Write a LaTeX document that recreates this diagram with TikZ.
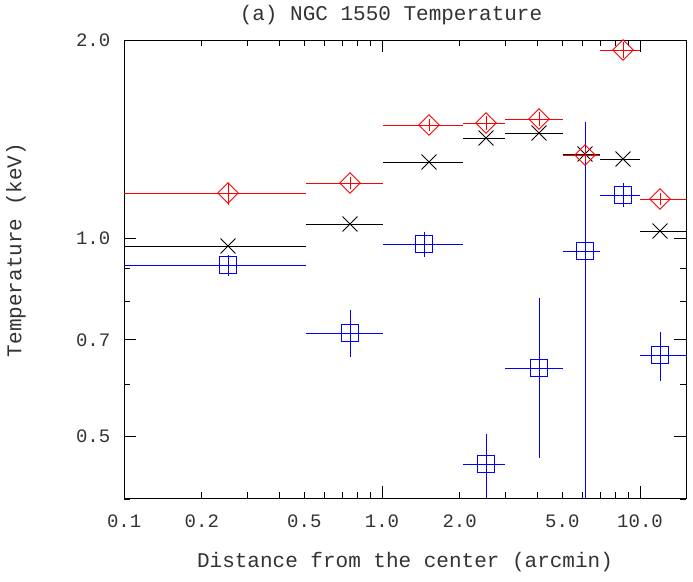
\documentclass[tikz,border=0pt]{standalone}
\usepackage{fontspec}
\setmonofont{Liberation Mono}
\usetikzlibrary{shapes.geometric,shapes.misc}
\tikzset{
  sqmark/.style={draw,rectangle,minimum size=17pt,inner sep=0pt},
  dimark/.style={draw,diamond,minimum size=21pt,inner sep=0pt},
  xmark/.style={draw,cross out,minimum size=14pt,inner sep=0pt},
  ticklab/.style={font=\fontsize{19}{19}\ttfamily,text=black!80}
}
\begin{document}
\begin{tikzpicture}[x=1pt,y=-1pt,line width=0.9pt]
 		\useasboundingbox (0,0) rectangle (693,581);
 		%frame
 		\draw (124,40) rectangle (686,498);
 		%x ticks
 		\foreach \v in {0.1,1,10}
 		{\draw ({382+258*log10(\v)},498) -- ++(0,-12);
 		 \draw ({382+258*log10(\v)},40) -- ++(0,12);}
 		\foreach \v in {0.2,0.3,0.4,0.5,0.6,0.7,0.8,0.9,2,3,4,5,6,7,8,9}
 		{\draw ({382+258*log10(\v)},498) -- ++(0,-6);
 		 \draw ({382+258*log10(\v)},40) -- ++(0,6);}
 		\foreach \v/\vtext in {0.1/0.1,0.2/0.2,0.5/0.5,1/1.0,2/2.0,5/5.0,10/10.0}
 		\node[ticklab] at ({382+258*log10(\v)},521) {\vtext};
 		%y ticks
 		\foreach \v/\vtext in {0.5/0.5,0.7/0.7,1/1.0,2/2.0}
 		{\draw (124,{238-658*log10(\v)}) -- ++(12,0);
 		 \draw (686,{238-658*log10(\v)}) -- ++(-12,0);
 		 \node[ticklab,anchor=east] at (114,{238-658*log10(\v)}) {\vtext};}
 		\foreach \v in {0.4,0.6,0.8,0.9}
 		{\draw (124,{238-658*log10(\v)}) -- ++(6,0);
 		 \draw (686,{238-658*log10(\v)}) -- ++(-6,0);}
 		%labels
 		\node[font=\fontsize{21}{21}\ttfamily,text=black!80] (title) at (391,15) {(a) NGC 1550 Temperature};
 		\node[font=\fontsize{21}{21}\ttfamily,text=black!80] (xlab) at (405,562) {Distance from the center (arcmin)};
 		\node[font=\fontsize{21}{21}\ttfamily,text=black!80,rotate=90] (ylab) at (16,250) {Temperature (keV)};
 		%black
 		\begin{scope}[color=black]
 		\foreach \xc/\xl/\xr/\yc [count=\i] in {228/124/306/246, 350/306/383/224, 429/383/463/162,
 			486/463/505/138, 539/505/563/133, 585/563/600/154, 623/600/640/159, 660/640/686/231}
 		{\node[xmark] (k\i) at (\xc,\yc) {};
 		 \draw (\xl,\yc) -- (\xr,\yc);}
 		\end{scope}
 		%blue
 		\begin{scope}[color=blue]
 		\foreach \xc/\xl/\xr/\yc/\yt/\yb [count=\i] in {228/124/306/265/255/276, 350/306/383/333/310/357,
 			424/383/463/244/232/257, 486/463/505/464/434/498, 539/505/563/368/298/458,
 			585/563/600/251/122/498, 623/600/640/195/183/207, 660/640/686/355/332/381}
 		{\node[sqmark] (b\i) at (\xc,\yc) {};
 		 \draw (\xl,\yc) -- (\xr,\yc) (\xc,\yt) -- (\xc,\yb);}
 		\end{scope}
 		%red
 		\begin{scope}[color=red]
 		\foreach \xc/\xl/\xr/\yc/\yt/\yb [count=\i] in {228/124/306/193/183/205, 350/306/383/183/177/189,
 			429/383/463/125/119/131, 486/463/505/123/116/130, 539/505/563/119/112/126,
 			585/563/600/155/148/162, 623/600/640/50/42/58, 660/640/686/199/193/205}
 		{\node[dimark] (r\i) at (\xc,\yc) {};
 		 \draw (\xl,\yc) -- (\xr,\yc) (\xc,\yt) -- (\xc,\yb);}
 		\end{scope}
\end{tikzpicture}
\end{document}
